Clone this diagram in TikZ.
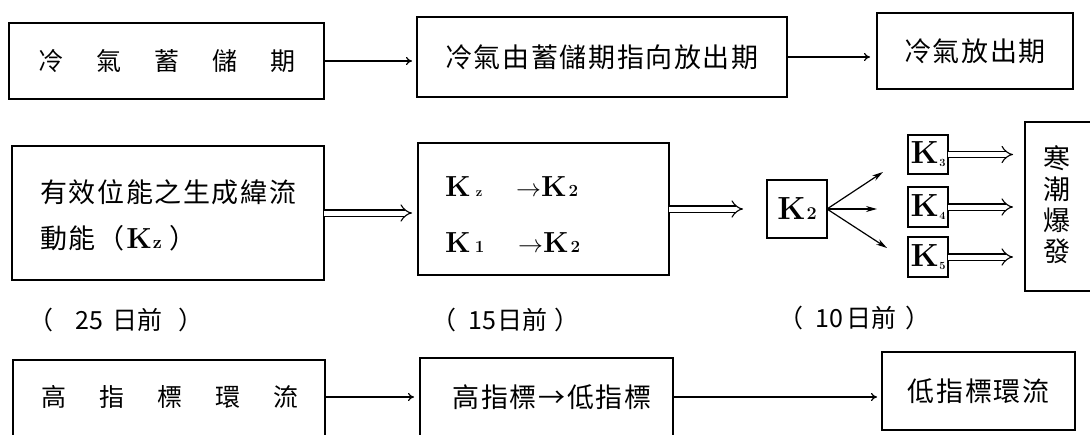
\documentclass[tikz,border=0pt]{standalone}
\usepackage{fontspec}
\newfontfamily\tcfont[LetterSpace=6]{Noto Sans CJK TC}
\newfontfamily\tcplain{Noto Sans CJK TC}
\usetikzlibrary{arrows.meta}
\begin{document}
\begin{tikzpicture}[x=1pt,y=-1pt,
  box/.style={draw, line width=1.2pt, inner sep=0pt, outer sep=0pt},
  cjk/.style={font=\tcfont\fontsize{27}{31}\selectfont, inner sep=0pt},
  cjks/.style={font=\tcplain\fontsize{25}{29}\selectfont, inner sep=0pt},
  lab/.style={font=\tcplain\fontsize{25}{29}\selectfont, inner sep=0pt, anchor=west},
  kf/.style={font=\bfseries\fontsize{29}{32}\selectfont, inner sep=0pt},
  kbig/.style={font=\bfseries\fontsize{32}{34}\selectfont, inner sep=0pt},
  thinarrow/.style={line width=1.2pt, -{To[length=6pt,width=8pt]}},
  dbl/.style={double, double distance=5pt, line width=1.1pt, -{Implies}},
  fan/.style={line width=1.2pt, -{Stealth[length=11pt,width=6pt]}}]
\useasboundingbox (0,0) rectangle (1090,434);

% row 1
\node[box, cjks, minimum width=315pt, minimum height=76pt] (b1) at (166.5,61)
  {冷\hspace{33pt}氣\hspace{33pt}蓄\hspace{33pt}儲\hspace{33pt}期};
\node[box, cjk, minimum width=370pt, minimum height=80pt] (b2) at (602,57)
  {冷氣由蓄儲期指向放出期};
\node[box, cjk, minimum width=196pt, minimum height=76pt] (b3) at (975,51)
  {冷氣放出期};
\draw[thinarrow, shorten >=5pt] (b1.east) -- (b1.east -| b2.west);
\draw[thinarrow, shorten >=7pt] (b2.east) -- (b2.east -| b3.west);

% row 2
\node[box, minimum width=312pt, minimum height=134pt] (b4) at (168,213) {};
\node[cjk, anchor=west] (t4a) at (40,192) {有效位能之生成緯流};
\node[cjk, anchor=west] (t4b) at (40,238)
  {動能（\hspace{2pt}{\rmfamily\bfseries\fontsize{29}{32}\selectfont K\hspace{1pt}{\fontsize{18}{18}\selectfont z}}\hspace{8pt}）};

\node[box, minimum width=251pt, minimum height=132pt] (b5) at (543.5,209) {};
\node[kf, anchor=base west] (k5a) at (445,196) {K\hspace{5pt}{\fontsize{13}{13}\selectfont z}};
\node[kf, anchor=base west] (k5b) at (516,196) {$\rightarrow$K\hspace{2pt}{\fontsize{17}{17}\selectfont 2}};
\node[kf, anchor=base west] (k5c) at (445,252) {K\hspace{4pt}{\fontsize{17}{17}\selectfont 1}};
\node[kf, anchor=base west] (k5d) at (518,252) {$\rightarrow$K\hspace{2pt}{\fontsize{17}{17}\selectfont 2}};

\node[box, kbig, minimum width=60pt, minimum height=58pt] (k2) at (797,209)
  {K\hspace{1pt}{\fontsize{18}{18}\selectfont 2}};
\node[box, kbig, minimum width=40pt, minimum height=39pt] (k3) at (928,154.5)
  {K\hspace{0.5pt}\raisebox{-3pt}{\fontsize{11}{11}\selectfont 3}};
\node[box, kbig, minimum width=40pt, minimum height=40pt] (k4) at (928,207)
  {K\hspace{0.5pt}\raisebox{-3pt}{\fontsize{11}{11}\selectfont 4}};
\node[box, kbig, minimum width=40pt, minimum height=40pt] (k5) at (928,257)
  {K\hspace{0.5pt}\raisebox{-3pt}{\fontsize{11}{11}\selectfont 5}};

\node[box, minimum width=100pt, minimum height=169pt] (b6) at (1075,206.5) {};
\node[cjk, align=center] (t6) at (1057,205) {寒\\潮\\爆\\發};

\coordinate (f1) at (883,172);
\coordinate (f2) at (877,209);
\coordinate (f3) at (887,248);

\draw[dbl, shorten >=6pt] (b4.east) -- (b4.east -| b5.west);
\draw[dbl, shorten >=24pt] (b5.east) -- (k2.west);
\draw[fan] (k2.east) -- (f1);
\draw[fan] (k2.east) -- (f2);
\draw[fan] (k2.east) -- (f3);
\draw[dbl, shorten >=12pt] (k3.east) -- (k3.east -| b6.west);
\draw[dbl, shorten >=12pt] (k4.east) -- (k4.east -| b6.west);
\draw[dbl, shorten >=12pt] (k5.east) -- (k5.east -| b6.west);

% labels
\node[lab] (l1) at (28,320) {（\hspace{22pt}25\hspace{10pt}日前\hspace{16pt}）};
\node[lab] (l2) at (431,320) {（\hspace{12pt}15\hspace{2pt}日前\hspace{7pt}）};
\node[lab] (l3) at (778,318) {（\hspace{12pt}10\hspace{4pt}日前\hspace{9pt}）};

% row 3
\node[box, minimum width=312pt, minimum height=100pt] (b7) at (169,410) {};
\node[cjks] (t7) at (170,397)
  {高\hspace{33pt}指\hspace{33pt}標\hspace{33pt}環\hspace{33pt}流};
\node[box, minimum width=253pt, minimum height=102pt] (b8) at (546.5,409) {};
\node[cjk] (t8) at (552,397) {高指標→低指標};
\node[box, cjk, minimum width=193pt, minimum height=78pt] (b9) at (978.5,391)
  {低指標環流};
\draw[thinarrow, shorten >=6pt] (t7 -| b7.east) -- (t7 -| b8.west);
\draw[thinarrow, shorten >=5pt] (t8 -| b8.east) -- (t8 -| b9.west);
\end{tikzpicture}
\end{document}
